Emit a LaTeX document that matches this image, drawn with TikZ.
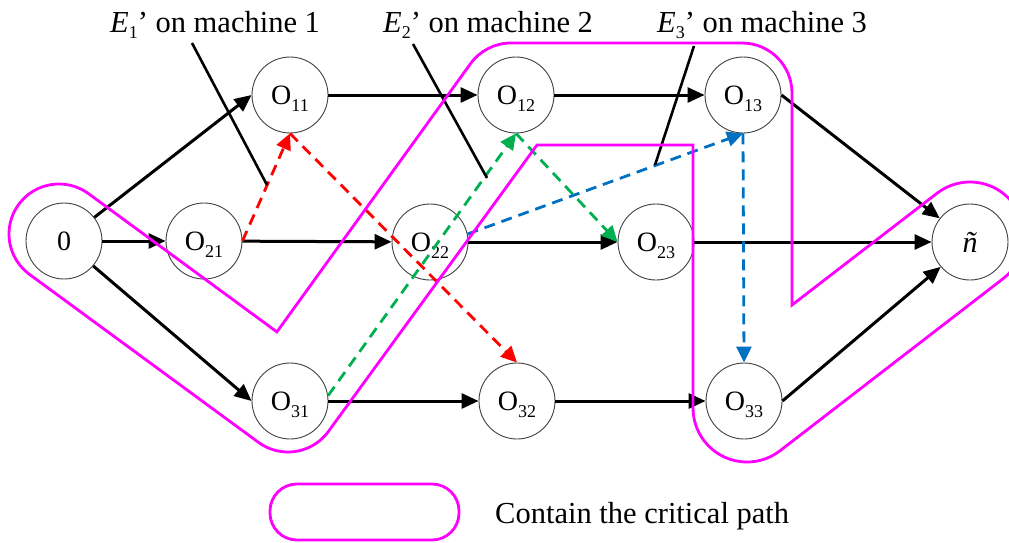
\documentclass[tikz,border=0pt]{standalone}
\usepackage{fontspec}
\setmainfont{Liberation Serif}
\usetikzlibrary{arrows.meta,calc}
\definecolor{critmag}{RGB}{255,0,255}
\definecolor{dgreen}{RGB}{0,176,80}
\definecolor{dblue}{RGB}{0,112,192}
\newcommand\lowsub[1]{\raisebox{-7pt}[0pt][0pt]{\fontsize{18}{18}\selectfont #1}}
\newcommand\Os[1]{O\lowsub{#1}}
\begin{document}
\begin{tikzpicture}[x=1pt,y=1pt,
  onode/.style={circle,draw=black!75,line width=0.9pt,minimum size=76pt,inner sep=0pt,font=\fontsize{28}{30}\selectfont},
  arr/.style={line width=3pt,-{Triangle[length=17pt,width=15pt]}},
  darr/.style={line width=2.8pt,dash pattern=on 11pt off 7pt,-{Triangle[length=16pt,width=15pt]}},
  tagline/.style={line width=2.6pt},
  crit/.style={draw=critmag,line width=2.8pt},
  lab/.style={inner sep=0pt,anchor=base west,font=\fontsize{30.5}{32}\selectfont}]
\useasboundingbox (0,0) rectangle (1009,-543);
% nodes
\node[onode] (n0)  at (64,-241)  {0};
\node[onode] (O11) at (290,-95)  {\Os{11}};
\node[onode] (O21) at (204,-241) {\Os{21}};
\node[onode] (O31) at (290,-401) {\Os{31}};
\node[onode] (O12) at (516,-95)  {\Os{12}};
\node[onode] (O22) at (430,-242) {\Os{22}};
\node[onode] (O32) at (517,-401) {\Os{32}};
\node[onode] (O13) at (743,-95)  {\Os{13}};
\node[onode] (O23) at (656,-242) {\Os{23}};
\node[onode] (O33) at (744,-401) {\Os{33}};
\node[onode,font=\fontsize{30}{32}\selectfont] (nt) at (970,-242) {\textit{ñ}};
% black arcs
\draw[arr] (n0) -- (O11.west);
\draw[arr] (n0) -- (O21);
\draw[arr] (n0) -- (O31.west);
\draw[arr] (O11) -- (O12);
\draw[arr] (O21) -- (O22);
\draw[arr] (O31) -- (O32);
\draw[arr] (O12) -- (O13);
\draw[arr] (O22) -- (O23);
\draw[arr] (O32) -- (O33);
\draw[arr] (O13.east) -- (nt);
\draw[arr] (O23) -- (nt);
\draw[arr] (O33.east) -- (nt);
% disjunctive (dashed) arcs
\draw[darr,red] (O21.east) -- (O11.south);
\draw[darr,red] (O11.south) -- (O32.north);
\draw[darr,dgreen] (O31.8) -- (O12.south);
\draw[darr,dgreen] (O12.south) -- (O23.west);
\draw[darr,dblue] (O22.12) -- (O13.south);
\draw[darr,dblue] (O13.south) -- (O33.north);
% labels and pointers
\node[lab] (L1) at (110,-33) {\textit{E}\raisebox{-6pt}{\fontsize{18}{18}\selectfont 1}’ on machine 1};
\node[lab] (L2) at (383,-33) {\textit{E}\raisebox{-6pt}{\fontsize{18}{18}\selectfont 2}’ on machine 2};
\node[lab] (L3) at (657,-33) {\textit{E}\raisebox{-6pt}{\fontsize{18}{18}\selectfont 3}’ on machine 3};
\coordinate (p1a) at (192,-43);  \coordinate (p1b) at (267,-185);
\coordinate (p2a) at (413,-44);  \coordinate (p2b) at (487,-178);
\coordinate (p3a) at (694,-46);  \coordinate (p3b) at (655,-165);
\draw[tagline] (p1a) -- (p1b);
\draw[tagline] (p2a) -- (p2b);
\draw[tagline] (p3a) -- (p3b);
% critical path region
\draw[crit] (276.9,-331.9)
  -- ($(511,-93)+(144.2:50)$) arc[start angle=144.2,end angle=90,radius=50]
  -- (742,-43) arc[start angle=90,end angle=0,radius=50]
  -- (792,-305)
  -- ($(970,-236)+(127.6:54)$) arc[start angle=127.6,end angle=-52.4,radius=54]
  -- ($(747,-408)+(-52.4:54)$) arc[start angle=-52.4,end angle=-180,radius=54]
  -- (693,-145)
  -- (537,-145)
  -- ($(288,-402)+(-35.8:50)$) arc[start angle=-35.8,end angle=-126.3,radius=50]
  -- ($(59,-234)+(-126.3:50)$) arc[start angle=-126.3,end angle=-306.3,radius=50]
  -- cycle;
% legend
\node[crit,rounded corners=27pt,minimum width=189pt,minimum height=56pt,inner sep=0pt] (legbox) at (364.5,-512) {};
\node[lab] (legtext) at (495,-523) {Contain the critical path};
\end{tikzpicture}
\end{document}
